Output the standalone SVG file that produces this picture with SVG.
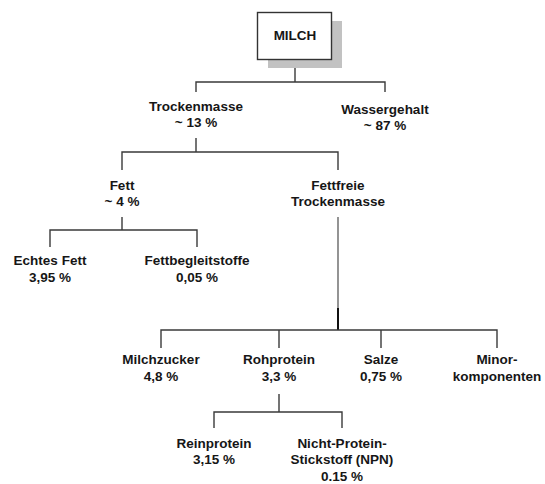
<svg xmlns="http://www.w3.org/2000/svg" width="545" height="484" viewBox="0 0 545 484">
<style>
text{font-family:"Liberation Sans",Arial,sans-serif;font-weight:bold;font-size:13.5px;fill:#161616;text-anchor:middle}
.c line,.c path{stroke:#3a3a3a;stroke-width:1.4;fill:none}
</style>
<rect width="545" height="484" fill="#fff"/>
<g id="connectors" class="c">
<path d="M295,60 V82 M196,92 V82 H385 V92"/>
<path d="M196,138 V152 M122,170 V152 H338 V170"/>
<path d="M122,217 V230 M50,247 V230 H197 V247"/>
<line x1="338" y1="217" x2="338" y2="330" style="stroke:#666"/>
<line x1="338" y1="308" x2="338" y2="330" style="stroke:#111;stroke-width:2"/>
<path d="M161,348 V330 H497 V348 M279,330 V348 M381,330 V348"/>
<path d="M279,394 V412 M214,428 V412 H342 V428"/>
</g>
<g id="milch">
<rect x="268" y="21" width="74" height="47" fill="#c2c2c2"/>
<rect x="257.5" y="12.5" width="74" height="47" fill="#fff" stroke="#333" stroke-width="1.4"/>
<text x="295" y="40">MILCH</text>
</g>
<g id="trockenmasse"><text x="196" y="111">Trockenmasse</text><text x="196" y="127">~ 13 %</text></g>
<g id="wassergehalt"><text x="385" y="114">Wassergehalt</text><text x="385" y="130">~ 87 %</text></g>
<g id="fett"><text x="122" y="190">Fett</text><text x="122" y="206">~ 4 %</text></g>
<g id="fettfreie"><text x="338" y="190">Fettfreie</text><text x="338" y="206">Trockenmasse</text></g>
<g id="echtesfett"><text x="50" y="265">Echtes Fett</text><text x="50" y="282">3,95 %</text></g>
<g id="fettbegleitstoffe"><text x="197" y="265">Fettbegleitstoffe</text><text x="197" y="282">0,05 %</text></g>
<g id="milchzucker"><text x="161" y="364">Milchzucker</text><text x="161" y="381">4,8 %</text></g>
<g id="rohprotein"><text x="279" y="364">Rohprotein</text><text x="279" y="381">3,3 %</text></g>
<g id="salze"><text x="381" y="364">Salze</text><text x="381" y="381">0,75 %</text></g>
<g id="minor"><text x="497" y="364">Minor-</text><text x="497" y="381">komponenten</text></g>
<g id="reinprotein"><text x="214" y="448">Reinprotein</text><text x="214" y="464">3,15 %</text></g>
<g id="npn"><text x="342" y="448">Nicht-Protein-</text><text x="342" y="464">Stickstoff (NPN)</text><text x="342" y="481">0.15 %</text></g>
</svg>
